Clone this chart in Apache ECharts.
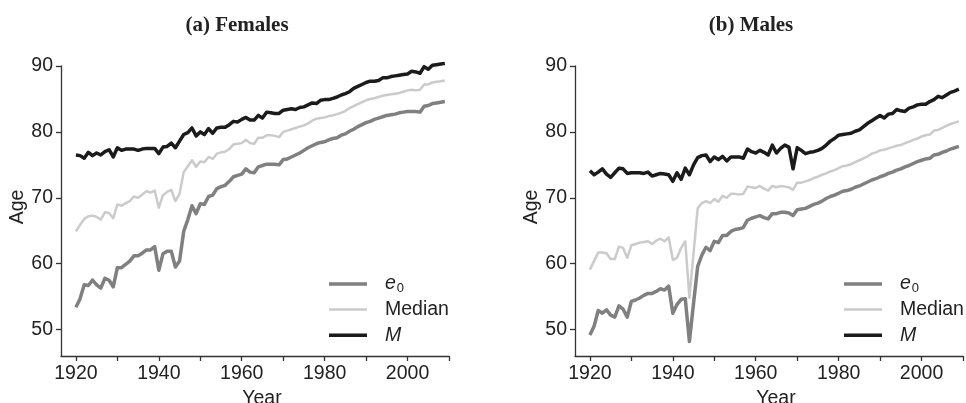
<!DOCTYPE html>
<html>
<head>
<meta charset="utf-8">
<script src="https://cdn.jsdelivr.net/npm/echarts@6/dist/echarts.min.js"></script>
<style>
html,body{margin:0;padding:0;background:#fff;}
#chart{width:966px;height:403px;}
</style>
</head>
<body>
<div id="chart"></div>
<script>
const years = [1920,1921,1922,1923,1924,1925,1926,1927,1928,1929,
1930,1931,1932,1933,1934,1935,1936,1937,1938,1939,
1940,1941,1942,1943,1944,1945,1946,1947,1948,1949,
1950,1951,1952,1953,1954,1955,1956,1957,1958,1959,
1960,1961,1962,1963,1964,1965,1966,1967,1968,1969,
1970,1971,1972,1973,1974,1975,1976,1977,1978,1979,
1980,1981,1982,1983,1984,1985,1986,1987,1988,1989,
1990,1991,1992,1993,1994,1995,1996,1997,1998,1999,
2000,2001,2002,2003,2004,2005,2006,2007,2008,2009];

const femaleE0 = [53.4,54.7,56.8,56.7,57.5,56.8,56.3,57.8,57.5,56.5,
59.4,59.4,59.9,60.4,61.2,61.2,61.6,62.1,62.1,62.6,
59.0,61.5,61.9,61.9,59.5,60.4,64.9,66.7,68.8,67.6,
69.1,69.0,70.2,70.4,71.4,71.7,71.9,72.5,73.2,73.4,
73.6,74.4,73.9,73.8,74.7,74.9,75.1,75.1,75.1,75.0,
75.8,75.9,76.2,76.5,76.8,77.2,77.6,77.9,78.2,78.4,
78.5,78.8,79.0,79.1,79.5,79.7,80.1,80.4,80.8,81.1,
81.4,81.6,81.9,82.1,82.3,82.5,82.6,82.7,82.9,83.0,
83.1,83.1,83.1,83.0,83.9,84.0,84.3,84.4,84.5,84.6];

const femaleMedian = [64.9,65.9,66.8,67.2,67.3,67.1,66.7,67.8,67.7,66.9,
69.0,68.8,69.2,69.5,70.2,70.0,70.5,71.0,70.8,71.1,
68.5,70.4,70.9,71.2,69.5,70.6,73.9,74.8,75.7,74.7,
75.5,75.4,76.2,75.9,76.7,76.9,77.0,77.4,78.1,78.2,
78.3,78.8,78.3,78.2,79.1,79.1,79.5,79.5,79.4,79.2,
80.0,80.2,80.4,80.6,80.8,81.0,81.3,81.7,82.0,82.1,
82.2,82.4,82.5,82.7,82.9,83.2,83.6,83.9,84.2,84.5,
84.8,85.0,85.1,85.3,85.5,85.6,85.7,85.8,85.9,86.1,
86.3,86.4,86.3,86.4,87.2,87.2,87.5,87.6,87.7,87.8];

const femaleM = [76.5,76.4,76.0,76.9,76.4,76.8,76.5,77.0,77.3,76.2,
77.6,77.2,77.4,77.4,77.4,77.2,77.4,77.5,77.5,77.5,
76.7,77.7,77.8,78.3,77.6,78.6,79.6,79.9,80.6,79.4,
80.0,79.6,80.5,79.8,80.6,80.7,80.7,81.1,81.6,81.5,
81.9,82.2,81.8,81.8,82.5,82.1,83.0,82.9,82.8,82.8,
83.3,83.4,83.5,83.4,83.7,83.8,84.1,84.4,84.3,84.8,
84.9,84.9,85.1,85.3,85.6,85.8,86.1,86.6,86.9,87.2,
87.5,87.7,87.7,87.8,88.2,88.2,88.4,88.5,88.6,88.7,
88.8,89.2,89.1,88.9,89.9,89.5,90.1,90.2,90.3,90.4];

const maleE0 = [49.2,50.5,52.9,52.5,53.0,52.2,51.9,53.6,53.1,51.9,
54.3,54.5,54.8,55.2,55.5,55.5,55.8,56.2,56.0,56.6,
52.5,53.8,54.6,54.7,48.2,54.0,59.6,61.3,62.5,62.0,
63.4,63.2,64.3,64.3,64.9,65.2,65.3,65.5,66.6,66.9,
67.1,67.3,67.0,66.8,67.6,67.6,67.8,67.8,67.7,67.3,
68.2,68.3,68.4,68.7,69.0,69.2,69.5,69.9,70.2,70.4,
70.7,71.0,71.1,71.3,71.6,71.8,72.1,72.4,72.7,72.9,
73.2,73.4,73.7,73.9,74.2,74.4,74.7,74.9,75.2,75.5,
75.7,75.9,76.0,76.5,76.6,76.9,77.1,77.4,77.6,77.8];

const maleMedian = [59.1,60.4,61.7,61.7,61.6,60.7,60.7,62.6,62.4,60.9,
62.8,63.0,63.2,63.3,63.4,63.0,63.5,63.8,63.4,64.0,
60.6,60.9,62.4,63.4,54.8,61.6,68.4,69.2,69.5,69.2,
69.8,69.4,70.3,70.0,70.6,70.6,70.5,70.6,71.7,71.6,
71.5,71.8,71.4,71.1,71.8,71.6,71.8,71.7,71.6,71.2,
72.3,72.3,72.5,72.7,73.0,73.2,73.5,73.7,74.0,74.2,
74.5,74.8,74.9,75.1,75.4,75.7,76.0,76.3,76.7,76.9,
77.2,77.3,77.5,77.7,77.9,78.0,78.3,78.5,78.8,79.0,
79.3,79.5,79.6,80.2,80.3,80.6,80.9,81.2,81.4,81.6];

const maleM = [74.1,73.5,73.9,74.4,73.6,73.1,73.8,74.5,74.4,73.7,
73.8,73.8,73.8,73.7,73.9,73.3,73.5,73.7,73.6,73.5,
72.5,73.8,72.8,74.5,73.5,75.0,76.1,76.4,76.5,75.5,
76.2,75.8,76.3,75.6,76.2,76.2,76.2,76.0,77.4,77.0,
76.8,77.2,76.9,76.5,78.0,76.8,77.5,78.0,77.7,74.4,
77.6,77.2,76.7,76.9,77.0,77.2,77.5,78.0,78.6,79.0,
79.5,79.6,79.7,79.8,80.1,80.3,80.8,81.3,81.7,82.1,
82.5,82.1,82.7,82.8,83.4,83.2,83.1,83.6,83.8,84.1,
84.2,84.2,84.6,84.9,85.4,85.2,85.6,86.0,86.2,86.5];

const xTicks = [1920,1930,1940,1950,1960,1970,1980,1990,2000,2010];
const xTickLabels = [1920,1940,1960,1980,2000];
const yTicks = [50,60,70,80,90];
const panelTitles = ['(a) Females', '(b) Males'];
const seriesNames = ['e0', 'Median', 'M'];

const FONT = 'Liberation Sans, Arial, sans-serif';
const AX = '#333';
const TXT = '#222';
const styles = {
  'e0':     {color: '#808080', width: 3.5},
  'Median': {color: '#cbcbcb', width: 2.5},
  'M':      {color: '#1b1b1b', width: 3.5}
};
// legend icon: horizontal bar inside a 38x14 box (tiny corner anchors fix the bounds)
function barIcon(h) {
  const t = (7 - h / 2).toFixed(2), b = (7 + h / 2).toFixed(2);
  return 'path://M0,0 L0.01,0 L0.01,0.01 Z M0,' + t + ' L38,' + t + ' L38,' + b + ' L0,' + b +
         ' Z M37.99,14 L38,14 L38,13.99 Z';
}

function pairs(vals) { return years.map((y, i) => [y, vals[i]]); }

function makeX(gi) {
  return {
    type: 'value', gridIndex: gi, min: 1916.4, max: 2010,
    axisLine: {show: true, onZero: false, lineStyle: {color: AX, width: 1.3}},
    axisTick: {show: true, customValues: xTicks, length: 5, lineStyle: {color: AX, width: 1.3}},
    axisLabel: {customValues: xTickLabels, fontSize: 19.5, color: TXT, fontFamily: FONT, margin: 8,
                formatter: v => String(v)},
    splitLine: {show: false},
    name: 'Year', nameLocation: 'middle', nameGap: 29,
    nameTextStyle: {fontSize: 19.5, color: TXT, fontFamily: FONT, padding: [0, 0, 0, 14]}
  };
}
function makeY(gi) {
  return {
    type: 'value', gridIndex: gi, min: 46, max: 90,
    axisLine: {show: true, onZero: false, lineStyle: {color: AX, width: 1.3}},
    axisTick: {show: true, customValues: yTicks, length: 5, lineStyle: {color: AX, width: 1.3}},
    axisLabel: {customValues: yTicks, fontSize: 19.5, color: TXT, fontFamily: FONT, margin: 8,
                formatter: v => String(v)},
    splitLine: {show: false},
    name: 'Age', nameLocation: 'middle', nameGap: 31,
    nameTextStyle: {fontSize: 19.5, color: TXT, fontFamily: FONT, padding: [0, 0, 0, 8]}
  };
}

const panels = [
  {e0: femaleE0, Median: femaleMedian, M: femaleM},
  {e0: maleE0, Median: maleMedian, M: maleM}
];

const series = [];
panels.forEach((p, gi) => {
  seriesNames.forEach(n => {
    series.push({
      name: n, type: 'line', xAxisIndex: gi, yAxisIndex: gi,
      data: pairs(p[n]), showSymbol: false, symbol: 'none', clip: false,
      lineStyle: {color: styles[n].color, width: styles[n].width, join: 'round'},
      itemStyle: {color: styles[n].color},
      animation: false
    });
  });
});

function legendFor(left) {
  return {
    left: left, top: 273, orient: 'vertical', padding: 0, itemGap: 3.6,
    itemWidth: 38, itemHeight: 14,
    data: seriesNames.map(n => ({name: n, icon: barIcon(styles[n].width)})),
    selectedMode: false,
    formatter: n => n === 'e0' ? '{i|e}{s|0}' : (n === 'M' ? '{i|M}' : n),
    textStyle: {
      fontSize: 19.5, color: TXT, fontFamily: FONT, lineHeight: 22, padding: [0, 0, 0, 13],
      rich: {
        i: {fontSize: 19.5, fontStyle: 'italic', color: TXT, fontFamily: FONT, lineHeight: 22},
        s: {fontSize: 13, color: TXT, fontFamily: FONT, lineHeight: 22, padding: [8, 0, 0, 1]}
      }
    }
  };
}

const chart = echarts.init(document.getElementById('chart'), null, {renderer: 'canvas'});
chart.setOption({
  animation: false,
  backgroundColor: '#fff',
  title: [
    {text: panelTitles[0], left: 237, top: 15, textAlign: 'center', padding: 0,
     textStyle: {fontFamily: 'Liberation Serif, Times New Roman, serif', fontWeight: 'bold', fontSize: 21, color: TXT}},
    {text: panelTitles[1], left: 751, top: 15, textAlign: 'center', padding: 0,
     textStyle: {fontFamily: 'Liberation Serif, Times New Roman, serif', fontWeight: 'bold', fontSize: 21, color: TXT}}
  ],
  grid: [
    {left: 61, top: 66, width: 388, height: 290, containLabel: false, outerBoundsMode: 'none'},
    {left: 575, top: 66, width: 388, height: 290, containLabel: false, outerBoundsMode: 'none'}
  ],
  xAxis: [makeX(0), makeX(1)],
  yAxis: [makeY(0), makeY(1)],
  legend: [legendFor(329), legendFor(844)],
  series: series
});
</script>
</body>
</html>
